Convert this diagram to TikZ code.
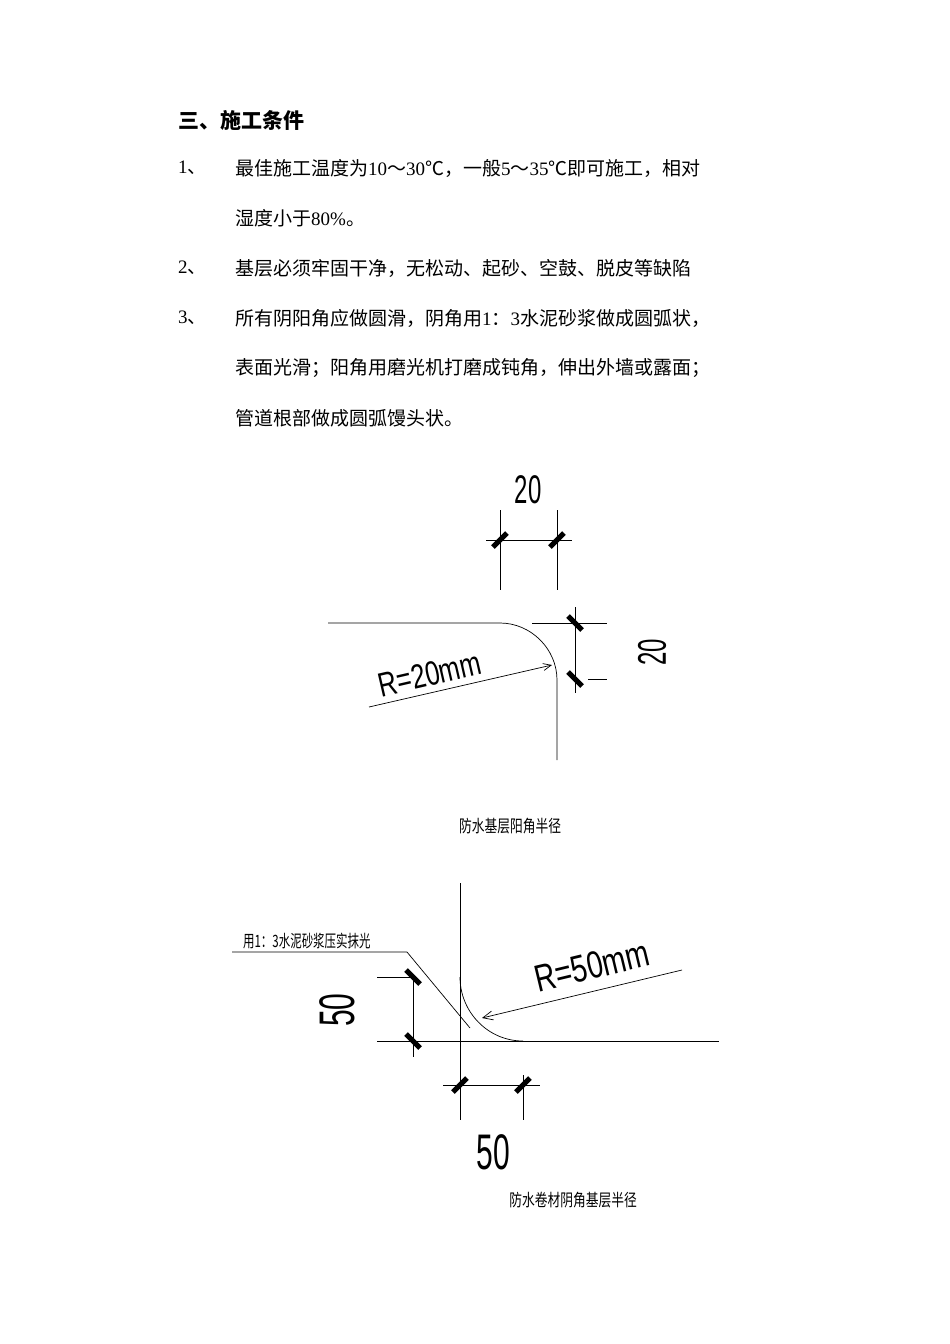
\documentclass[tikz,border=0pt]{standalone}
\usepackage{fontspec}
\setmainfont{Liberation Serif}
\newfontfamily\cjk{Noto Sans CJK SC}
\newfontfamily\cad{Liberation Sans}
\usetikzlibrary{calc,arrows.meta}
\newcommand{\narrow}[1]{\scalebox{0.6}[1]{#1}}
\begin{document}
\begin{tikzpicture}[x=1pt,y=-1pt,
  thin line/.style={line width=0.7pt},
  tk/.style={line width=5pt},
  body/.style={anchor=west,inner sep=0pt,font=\fontsize{19}{19}\selectfont},
  cadtxt/.style={inner sep=0pt,font=\cad\fontsize{40}{40}\selectfont},
  captxt/.style={inner sep=0pt,font=\cjk\fontsize{17}{17}\selectfont,xscale=0.75}]
\useasboundingbox[fill=white] (0,0) rectangle (950,1344);
% text
\node[body,font=\cjk\bfseries\fontsize{21}{21}\selectfont] (h) at (178,120) {三、施工条件};
\node[body] (n1) at (178,168) {1{\cjk 、}};
\node[body] (t1) at (235,168) {{\cjk 最佳施工温度为}10{\cjk ～}30{\cjk ℃，一般}5{\cjk ～}35{\cjk ℃即可施工，相对}};
\node[body] (t1b) at (235,218) {{\cjk 湿度小于}80\%{\cjk 。}};
\node[body] (n2) at (178,268) {2{\cjk 、}};
\node[body] (t2) at (235,268) {\cjk 基层必须牢固干净，无松动、起砂、空鼓、脱皮等缺陷};
\node[body] (n3) at (178,318) {3{\cjk 、}};
\node[body] (t3) at (235,318) {{\cjk 所有阴阳角应做圆滑，阴角用}1{\cjk ：}3{\cjk 水泥砂浆做成圆弧状，}};
\node[body] (t3b) at (235,368) {\cjk 表面光滑；阳角用磨光机打磨成钝角，伸出外墙或露面；};
\node[body] (t3c) at (235,418) {\cjk 管道根部做成圆弧馒头状。};
% diagram 1
\coordinate (a1) at (500,623); \coordinate (a2) at (557,680);
\draw[thin line] (328,623) -- (a1) .. controls (531,623) and (557,649) .. (a2) -- (557,760);
\draw[thin line] (500,510) -- (500,590) (557,510) -- (557,590) (486,540) -- (572,540);
\draw[tk] (493,547) -- (507,533); \draw[tk] (550,547) -- (564,533);
\node[cadtxt] (d20a) at (528,490) {\narrow{20}};
\draw[thin line] (532,623) -- (607,623) (588,679) -- (607,679) (575,607) -- (575,693);
\draw[tk] (568,616) -- (582,630); \draw[tk] (568,672) -- (582,686);
\node[cadtxt,rotate=90] (d20b) at (652,652) {\narrow{20}};
\coordinate (r1s) at (369,707); \coordinate (r1e) at (552,665);
\draw[thin line,-{Straight Barb[length=8pt,width=7pt]}] (r1s) -- (r1e);
\node[cadtxt,rotate=13,font=\cad\fontsize{34}{34}\selectfont] (r1) at (430,674) {\scalebox{0.75}[1]{R=20mm}};
\node[captxt] (c1) at (510,826) {防水基层阳角半径};
% diagram 2
\draw[thin line] (460,883) -- (460,1120) (377,1041) -- (719,1041);
\draw[thin line] (460,977) .. controls (460,1012) and (488,1041) .. (523,1041);
\draw[thin line] (232,952) -- (407,952) -- (470,1028);
\node[captxt,anchor=south west,xscale=0.9] (lbl) at (243,949) {用1：3水泥砂浆压实抹光};
\draw[thin line] (377,977) -- (417,977) (413,977) -- (413,1057);
\draw[tk] (406,970) -- (420,984); \draw[tk] (406,1034) -- (420,1048);
\node[cadtxt,rotate=90,font=\cad\fontsize{50}{50}\selectfont] (d50a) at (337,1010) {\narrow{50}};
\draw[thin line] (443,1085) -- (540,1085) (523,1075) -- (523,1120);
\draw[tk] (453,1092) -- (467,1078); \draw[tk] (516,1092) -- (530,1078);
\node[cadtxt,font=\cad\fontsize{50}{50}\selectfont] (d50b) at (493,1152) {\narrow{50}};
\coordinate (r2s) at (682,970); \coordinate (r2e) at (482,1018);
\draw[thin line,-{Straight Barb[length=10pt,width=9pt]}] (r2s) -- (r2e);
\node[cadtxt,rotate=13.5,font=\cad\fontsize{38}{38}\selectfont] (r2) at (592,966) {\scalebox{0.75}[1]{R=50mm}};
\node[captxt] (c2) at (573,1200) {防水卷材阴角基层半径};
\end{tikzpicture}
\end{document}
